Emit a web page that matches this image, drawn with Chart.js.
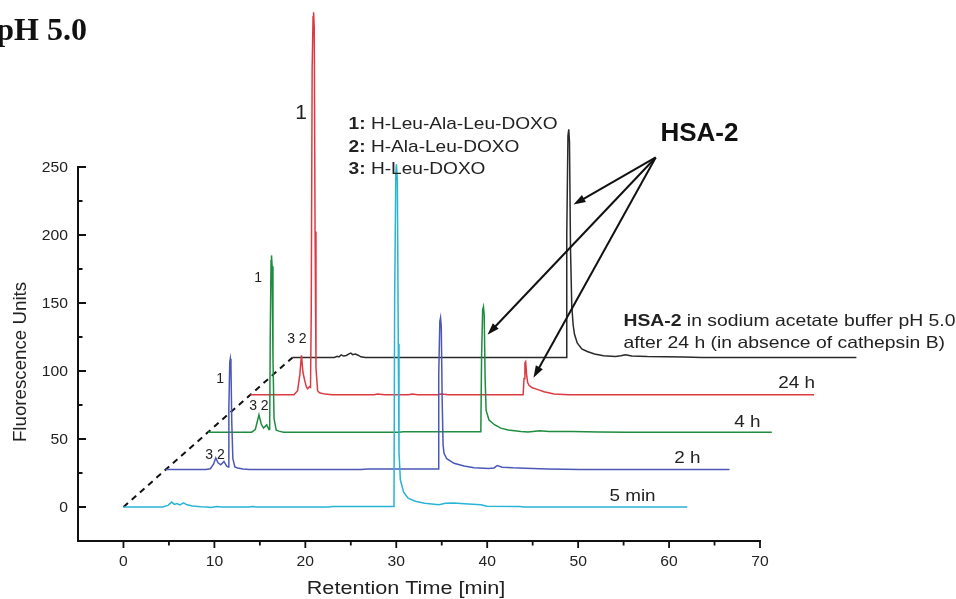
<!DOCTYPE html>
<html>
<head>
<meta charset="utf-8">
<script src="https://cdn.jsdelivr.net/npm/chart.js@4.4.1/dist/chart.umd.min.js"></script>
<style>
  html, body { margin: 0; padding: 0; background: #fff; }
  #wrap { width: 956px; height: 599px; position: relative; }
</style>
</head>
<body>
<div id="wrap"><canvas id="chart" width="956" height="599"></canvas></div>
<script>
// HPLC traces, [retention time (min), fluorescence units] before stacking
const trace5min = [[0,0],[4.3,0],[4.9,1.2],[5.3,3.6],[5.6,1.9],[5.9,2.6],[6.2,1.6],[6.6,3.0],[7.0,1.6],[7.6,0.7],[8.5,0.2],[9.2,0],[9.6,-0.3],[10.3,0.4],[10.8,0],[13.8,0],[14.2,0.4],[14.6,0],[22.6,0],[23.0,0.3],[29.75,0.3],[29.82,150],[29.95,245],[30.02,252],[30.12,240],[30.22,120],[30.3,40],[30.45,20],[30.8,11],[31.3,6.5],[32.1,4.2],[33.1,2.7],[34.7,1.6],[35.4,2.7],[36.3,2.9],[37.5,2.3],[39.3,1.6],[40.0,0.5],[43.6,0.3],[44.0,0],[62,0]];
const trace2h = [[0,0],[4.4,0],[4.9,0.6],[5.25,4],[5.5,8.5],[5.75,5],[6.05,3.5],[6.4,6],[6.7,2.5],[6.88,2],[6.94,45],[7.04,79],[7.1,81.5],[7.17,76],[7.26,35],[7.38,8],[7.6,2],[7.9,1.2],[8.5,0.4],[9.2,0],[21.5,0],[22.2,0.4],[29.95,0.4],[30.02,70],[30.14,109],[30.22,111.7],[30.3,105],[30.4,50],[30.5,18],[30.6,12],[30.9,8],[31.7,4.6],[32.8,2.6],[33.9,1.3],[35.5,0.9],[36.1,1.2],[36.45,3.0],[37.0,1.8],[38.2,1.3],[39.5,1.0],[42,0.5],[45.5,0],[62,0]];
const trace4h = [[0,0],[4.8,0],[5.2,2],[5.6,12.7],[5.85,6],[6.1,3],[6.45,5.4],[6.7,2],[6.78,2],[6.84,70],[6.93,126],[6.98,130],[7.05,122],[7.14,55],[7.26,10],[7.5,1.5],[7.8,0.8],[8.3,0],[21,0],[21.5,0.3],[30.0,0.3],[30.08,55],[30.2,90],[30.29,92.3],[30.37,86],[30.47,40],[30.58,16],[30.9,9],[31.5,5.5],[32.2,3],[33,1.6],[34.4,0.5],[35.2,0.2],[36.5,1],[37.5,0.6],[40,0.5],[43,0.2],[46,0],[62,0]];
const trace24h = [[0,0],[4.8,0],[5.2,3],[5.45,15],[5.62,29],[5.8,16],[5.97,11],[6.15,6],[6.3,4.5],[6.5,6],[6.62,5.5],[6.7,60],[6.8,240],[6.9,278],[6.96,281.3],[7.03,270],[7.12,120],[7.22,20],[7.4,3],[7.6,1.5],[8.2,0.5],[9,0],[13.6,0],[14,0.6],[14.8,0],[17.4,0],[17.8,0.5],[18.4,0],[20.6,0],[21,0.6],[21.8,0],[30.0,0],[30.1,12],[30.2,23.5],[30.28,24.4],[30.38,15],[30.5,9],[30.65,7],[31.0,5.2],[31.55,4.0],[32.3,2.2],[33.4,0.6],[35,0],[62,0]];
const traceBuffer24h = [[0,0],[4.6,0],[4.9,0.8],[5.1,0.4],[5.35,1.9],[5.6,1.0],[5.9,1.4],[6.2,2.6],[6.4,3.2],[6.6,2.0],[6.9,2.4],[7.2,1.6],[7.5,0.4],[8.0,0],[30.08,0],[30.15,90],[30.28,163],[30.37,167.7],[30.45,158],[30.56,80],[30.7,38],[30.85,24],[31.0,17],[31.3,10.6],[31.8,6.2],[32.4,4.3],[33.2,2.5],[34.2,1.2],[35.5,0.6],[36.1,1.2],[36.6,1.9],[37.3,1.0],[39,0.6],[43,0.3],[45,0],[62,0]];

// waterfall stacking: each run is shifted right and up
const runNames = ['5 min', '2 h', '4 h', '24 h', 'HSA-2 buffer'];
const shiftX = [0, 4.65, 9.3, 13.95, 18.6];
const shiftY = [0, 27.5, 55, 82.5, 110];
const lineColors = ['#27b4d6', '#4b58b6', '#1f8c3f', '#dc3a43', '#2a2a2a'];

const xTicks = [0, 10, 20, 30, 40, 50, 60, 70];
const xMinorTicks = [5, 15, 25, 35, 45, 55, 65];
const yTicks = [0, 50, 100, 150, 200, 250];
const yMinorTicks = [25, 75, 125, 175, 225];

// text placed in data coordinates: [text, x, y, size]
const peakLabels = [
  ['1', 10.2, 91.3, 14], ['3 2', 8.99, 35.4, 14],
  ['1', 14.37, 165.7, 14], ['3 2', 13.82, 71.4, 14],
  ['3 2', 18.0, 120.8, 14], ['1', 18.9, 285.0, 21]
];
const runLabels = [
  ['5 min', 53.44, 4.4], ['2 h', 60.57, 32.4], ['4 h', 67.17, 58.9], ['24 h', 72.0, 87.6]
];
const compoundKey = [
  ['1:', ' H-Leu-Ala-Leu-DOXO'],
  ['2:', ' H-Ala-Leu-DOXO'],
  ['3:', ' H-Leu-DOXO']
];
const arrowFrom = [58.53, 257.0];
const arrowTips = [[49.49, 222.4], [40.03, 126.7], [45.09, 95.0]];

const FONT = "'Liberation Sans', Arial, sans-serif";

const datasets = [trace5min, trace2h, trace4h, trace24h, traceBuffer24h].map((tr, i) => ({
  label: runNames[i],
  data: tr.map(([t, f]) => ({ x: t + shiftX[i], y: f + shiftY[i] })),
  borderColor: lineColors[i],
  borderWidth: 1.5,
  pointRadius: 0,
  tension: 0,
  clip: false
}));
datasets.push({
  label: 'offset',
  data: [{ x: 0, y: 0 }, { x: shiftX[4], y: shiftY[4] }],
  borderColor: '#111',
  borderWidth: 2,
  borderDash: [6, 5],
  pointRadius: 0,
  clip: false
});

// segments: [[text, bold], ...]; sx stretches horizontally
function drawText(ctx, segs, x, y, size, opts = {}) {
  const fontOf = b => (b ? 'bold ' : '') + size + 'px ' + FONT;
  let natural = 0;
  segs.forEach(([t, b]) => { ctx.font = fontOf(b); natural += ctx.measureText(t).width; });
  const sx = opts.width ? opts.width / natural : (opts.sx || 1);
  let start = 0;
  if (opts.align === 'right') start = -natural;
  else if (opts.align === 'center') start = -natural / 2;
  ctx.save();
  ctx.translate(x, y);
  ctx.scale(sx, 1);
  ctx.fillStyle = opts.color || '#222';
  ctx.textAlign = 'left';
  ctx.textBaseline = 'alphabetic';
  let cx = start;
  segs.forEach(([t, b]) => {
    ctx.font = fontOf(b);
    ctx.fillText(t, cx, 0);
    cx += ctx.measureText(t).width;
  });
  ctx.restore();
  return sx;
}

function arrow(ctx, x1, y1, x2, y2) {
  const a = Math.atan2(y2 - y1, x2 - x1);
  const L = 12, W = 4;
  ctx.beginPath();
  ctx.moveTo(x1, y1);
  ctx.lineTo(x2 - Math.cos(a) * L * 0.8, y2 - Math.sin(a) * L * 0.8);
  ctx.stroke();
  ctx.beginPath();
  ctx.moveTo(x2, y2);
  ctx.lineTo(x2 - Math.cos(a) * L - Math.sin(a) * W, y2 - Math.sin(a) * L + Math.cos(a) * W);
  ctx.lineTo(x2 - Math.cos(a) * L + Math.sin(a) * W, y2 - Math.sin(a) * L - Math.cos(a) * W);
  ctx.closePath();
  ctx.fill();
}

const decor = {
  id: 'decor',
  afterDraw(chart) {
    const { ctx, scales: { x, y } } = chart;
    const X = v => x.getPixelForValue(v);
    const Y = v => y.getPixelForValue(v);
    const L = x.left, B = y.bottom, T = y.top, R = x.right;
    ctx.save();

    // axes
    ctx.strokeStyle = '#111';
    ctx.lineWidth = 2;
    ctx.lineCap = 'square';
    ctx.beginPath();
    ctx.moveTo(L, T); ctx.lineTo(L, B); ctx.lineTo(R, B);
    ctx.stroke();
    ctx.lineCap = 'butt';
    ctx.lineWidth = 1.8;
    ctx.beginPath();
    yTicks.forEach(v => { ctx.moveTo(L, Y(v)); ctx.lineTo(L + 8, Y(v)); });
    yMinorTicks.forEach(v => { ctx.moveTo(L, Y(v)); ctx.lineTo(L + 4.5, Y(v)); });
    xTicks.forEach(v => { ctx.moveTo(X(v), B); ctx.lineTo(X(v), B + 7); });
    xMinorTicks.forEach(v => { ctx.moveTo(X(v), B); ctx.lineTo(X(v), B + 4.5); });
    ctx.stroke();

    // tick labels
    yTicks.forEach(v => drawText(ctx, [[String(v), false]], L - 10, Y(v) + 5, 14, { align: 'right', sx: 1.12 }));
    xTicks.forEach(v => drawText(ctx, [[String(v), false]], X(v), B + 25, 14, { align: 'center', sx: 1.12 }));

    // axis titles
    drawText(ctx, [['Retention Time [min]', false]], 406, 594, 18, { align: 'center', sx: 1.2 });
    ctx.save();
    ctx.translate(26, 362);
    ctx.rotate(-Math.PI / 2);
    drawText(ctx, [['Fluorescence Units', false]], 0, 0, 18, { align: 'center', sx: 1.04 });
    ctx.restore();

    // panel label
    ctx.save();
    ctx.font = 'bold 32px "Liberation Serif", "Times New Roman", serif';
    ctx.fillStyle = '#111';
    ctx.textAlign = 'right';
    ctx.fillText('pH 5.0', 87, 40);
    ctx.restore();

    // peak numbering
    peakLabels.forEach(([t, vx, vy, s]) => drawText(ctx, [[t, false]], X(vx), Y(vy), s));
    // run labels
    runLabels.forEach(([t, vx, vy]) => drawText(ctx, [[t, false]], X(vx), Y(vy), 16, { sx: 1.18 }));

    // compound key
    let ks = null;
    compoundKey.forEach(([n, name], i) => {
      const opts = ks ? { sx: ks } : { width: 209 };
      const s = drawText(ctx, [[n, true], [name, false]], X(24.76), Y(277.7) + i * 22.5, 17, opts);
      if (!ks) ks = s;
    });

    // HSA-2 annotation
    drawText(ctx, [['HSA-2', true]], X(59.05), Y(268.8), 26, { color: '#111' });
    const ds = drawText(ctx, [['HSA-2', true], [' in sodium acetate buffer pH 5.0', false]], X(54.98), Y(133.3), 16.5, { width: 332 });
    drawText(ctx, [['after 24 h (in absence of cathepsin B)', false]], X(54.98), Y(117.1), 16.5, { sx: ds });

    ctx.strokeStyle = '#111';
    ctx.fillStyle = '#111';
    ctx.lineWidth = 2;
    arrowTips.forEach(([tx, ty]) => arrow(ctx, X(arrowFrom[0]), Y(arrowFrom[1]), X(tx), Y(ty)));

    ctx.restore();
  }
};

new Chart(document.getElementById('chart'), {
  type: 'line',
  data: { datasets },
  options: {
    responsive: false,
    animation: false,
    devicePixelRatio: 1,
    layout: { padding: { left: 0, top: 167, right: 196, bottom: 0 } },
    plugins: { legend: { display: false }, tooltip: { enabled: false } },
    scales: {
      x: {
        type: 'linear', min: -5, max: 70,
        grid: { display: false, drawTicks: false },
        border: { display: false },
        ticks: { display: false },
        afterFit: s => { s.height = 58; }
      },
      y: {
        type: 'linear', min: -25, max: 250,
        grid: { display: false, drawTicks: false },
        border: { display: false },
        ticks: { display: false },
        afterFit: s => { s.width = 78; }
      }
    }
  },
  plugins: [decor]
});
</script>
</body>
</html>
